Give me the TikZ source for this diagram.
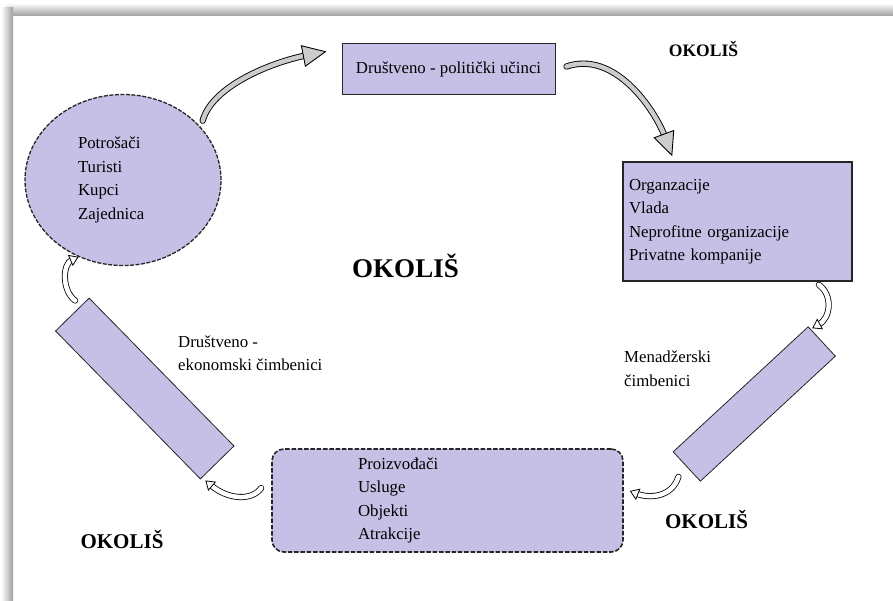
\documentclass[tikz,border=0pt]{standalone}
\usepackage{fontspec}
\setmainfont{Liberation Serif}
\usetikzlibrary{shapes.geometric,arrows.meta,calc}
\definecolor{lav}{RGB}{199,192,230}
\begin{document}
\begin{tikzpicture}[x=1pt,y=-1pt,
  every node/.style={font=\fontsize{16.8}{23.5}\selectfont},
  box/.style={draw=black!85, fill=lav, line width=1pt},
  tilt/.style={draw=black!85, fill=lav, line width=0.8pt, inner sep=0pt},
  env/.style={font=\fontsize{#1}{#1}\selectfont\bfseries, inner sep=0pt},
  bigshaft/.style={draw=black, double=gray!40, double distance=4.5pt, line width=0.9pt, line cap=round, shorten >=20pt},
  bighead/.style={draw=gray!40, line width=0.9pt, -{Triangle[length=24pt, width=22pt, color=black, fill=gray!40]}},
  smallshaft/.style={draw=black, double=white, double distance=4.5pt, line width=0.8pt, line cap=round, shorten >=7pt},
  smallhead/.style={draw=white, line width=0.8pt, -{Triangle[length=9pt, width=12pt, color=black, fill=white]}}
]
\useasboundingbox (0,0) rectangle (893,601);
\fill[white] (0,0) rectangle (893,601);
\shade[top color=white, bottom color=gray!75] (6,3) rectangle (893,16);
\shade[left color=white, right color=gray!75] (1,8) rectangle (13,601);

% main shapes
\node[box, minimum width=213pt, minimum height=51pt, inner sep=0pt] (pol) at (448.5,69.5) {Društveno - politički učinci};
\node[box, line width=1.6pt, minimum width=229pt, minimum height=119pt, text width=217pt, inner sep=6pt, align=left] (org) at (737.5,221.5) {Organzacije\\Vlada\\Neprofitne organizacije\\Privatne kompanije};
\node[box, ellipse, line width=1.3pt, dash pattern=on 4pt off 1.5pt, minimum width=196pt, minimum height=171pt, text width=90pt, align=left, inner sep=0pt] (cons) at (123,180) {Potrošači\\Turisti\\Kupci\\Zajednica};
\node[box, line width=1.6pt, dash pattern=on 4.5pt off 1.8pt, rounded corners=12pt, minimum width=351pt, minimum height=103pt, text width=179pt, align=left, inner sep=0pt] (prod) at (447.5,500.5) {Proizvođači\\Usluge\\Objekti\\Atrakcije};
\node[tilt, minimum width=207pt, minimum height=47pt, rotate=-45.6] (lrect) at (144.75,388.5) {};
\node[tilt, minimum width=184pt, minimum height=40pt, rotate=42.8] (rrect) at (754.25,404) {};

% labels
\node[anchor=west, align=left, inner sep=0pt] (lblse) at (178,353) {Društveno -\\ekonomski čimbenici};
\node[anchor=west, align=left, inner sep=0pt] (lblm) at (624,368.5) {Menadžerski\\čimbenici};
\node[env=27] (ok1) at (405.5,266) {OKOLIŠ};
\node[env=17.5] (ok2) at (703.5,49) {OKOLIŠ};
\node[env=21] (ok3) at (122,539) {OKOLIŠ};
\node[env=21] (ok4) at (706.5,519) {OKOLIŠ};

% big arrows
\draw[bigshaft] ($(cons.37)+(5,-3)$) .. controls (212,86) and (272,62) .. ($(pol.west)+(-15,-18)$);
\draw[bighead] ($(cons.37)+(5,-3)$) .. controls (212,86) and (272,62) .. ($(pol.west)+(-15,-18)$);
\draw[bigshaft] ($(pol.east)+(11,-3)$) .. controls (615,50) and (655,110) .. ($(org.north west)+(50,-5)$);
\draw[bighead] ($(pol.east)+(11,-3)$) .. controls (615,50) and (655,110) .. ($(org.north west)+(50,-5)$);

% small arrows
\draw[smallshaft] ($(lrect.north west)+(-14,3)$) .. controls (62,291) and (62,264) .. (cons.240);
\draw[smallhead] ($(lrect.north west)+(-14,3)$) .. controls (62,291) and (62,264) .. (cons.240);
\draw[smallshaft] ($(prod.west)+(-10,-12.5)$) .. controls (252,501) and (228,500) .. ($(lrect.south east)+(5,1)$);
\draw[smallhead] ($(prod.west)+(-10,-12.5)$) .. controls (252,501) and (228,500) .. ($(lrect.south east)+(5,1)$);
\draw[smallshaft] ($(rrect.west)+(-8,10)$) .. controls (672,497) and (650,499) .. ($(prod.east)+(6,-9.5)$);
\draw[smallhead] ($(rrect.west)+(-8,10)$) .. controls (672,497) and (650,499) .. ($(prod.east)+(6,-9.5)$);
\draw[smallshaft] ($(org.south east)+(-34,3)$) .. controls (833,295) and (831,318) .. ($(rrect.north east)+(4,2)$);
\draw[smallhead] ($(org.south east)+(-34,3)$) .. controls (833,295) and (831,318) .. ($(rrect.north east)+(4,2)$);
\end{tikzpicture}
\end{document}
